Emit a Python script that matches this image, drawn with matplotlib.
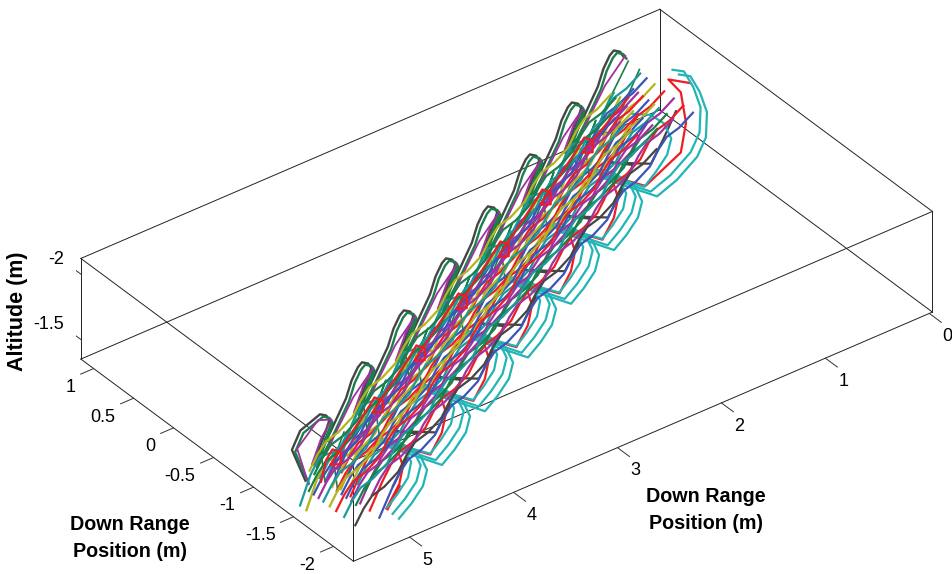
import matplotlib
matplotlib.use('Agg')
import matplotlib.pyplot as plt
import numpy as np

plt.rcParams['font.family'] = ['Liberation Sans', 'DejaVu Sans']

x_lim = (-0.03, 5.54)
y_lim = (1.16, -2.25)
z_lim = (-1.35, -2.12)
x_ticks = [0, 1, 2, 3, 4, 5]
y_ticks = [1, 0.5, 0, -0.5, -1, -1.5, -2]
z_ticks = [-1.5, -2]

CYAN, RED, GREEN, GRAY = '#22b5b5', '#f01c24', '#1a7f4b', '#454545'
PURPLE, BLUE, OLIVE, TEAL = '#a032a0', '#3a55b8', '#b4b41e', '#1a9a9a'

# upper left loops
green_x = [5.01,5.14,5.06, 4.87,4.81,4.78,4.81,4.87,4.93,4.77,4.62, 4.32,4.26,4.22,4.16,4.13,4.16,4.22,4.28,4.12,3.97,
           3.67,3.61,3.57,3.51,3.48,3.51,3.57,3.63,3.47,3.32, 3.02,2.96,2.92,2.86,2.83,2.86,2.92,2.98,2.82,2.67,
           2.37,2.31,2.27,2.21,2.18,2.21,2.27,2.33,2.17,2.02, 1.72,1.66,1.62,1.56,1.53,1.56,1.62,1.68,1.52,1.37,
           1.07,1.01,.97,.91,.88,.91,.97,1.03,.87,.72, .42,.36,.32,.26,.23]
green_z = [-1.20,-1.48,-1.60, -1.66,-1.63,-1.585,-1.52,-1.415,-1.295,-1.49,-1.695, -1.585,-1.665,-1.69,-1.66,-1.615,-1.55,-1.445,-1.325,-1.52,-1.725,
           -1.615,-1.695,-1.72,-1.69,-1.645,-1.58,-1.475,-1.355,-1.55,-1.755, -1.645,-1.725,-1.75,-1.72,-1.675,-1.61,-1.505,-1.385,-1.58,-1.785,
           -1.675,-1.755,-1.78,-1.75,-1.705,-1.64,-1.535,-1.415,-1.61,-1.815, -1.705,-1.785,-1.81,-1.78,-1.735,-1.67,-1.565,-1.445,-1.64,-1.845,
           -1.735,-1.815,-1.84,-1.81,-1.765,-1.70,-1.595,-1.475,-1.67,-1.875, -1.765,-1.845,-1.87,-1.84,-1.795]
green_y = [-1.0,-.68,-.36,-.04,.28,.60,.92,1.24]
grayl_y = [-.96,-.64,-.32,0,.32,.64,.96,1.28]
loop_n = [11,10,10,10,10,10,10,5]

purple_x = [5.01,5.12,4.92, 4.79,4.89,4.98,4.85,4.73,4.58, 4.14,4.24,4.33,4.20,4.08,3.93, 3.49,3.59,3.68,3.55,3.43,3.28,
            2.84,2.94,3.03,2.90,2.78,2.63, 2.19,2.29,2.38,2.25,2.13,1.98, 1.54,1.64,1.73,1.60,1.48,1.33, .89,.99,1.08,.95,.83,.68, .24]
purple_z = [-1.19,-1.50,-1.65, -1.61,-1.50,-1.33,-1.36,-1.52,-1.71, -1.64,-1.53,-1.36,-1.39,-1.55,-1.74, -1.67,-1.56,-1.39,-1.42,-1.58,-1.77,
            -1.70,-1.59,-1.42,-1.45,-1.61,-1.80, -1.73,-1.62,-1.45,-1.48,-1.64,-1.83, -1.76,-1.65,-1.48,-1.51,-1.67,-1.86, -1.79,-1.68,-1.51,-1.54,-1.70,-1.89, -1.82]
purple_y = [-1.0,-.68,-.36,-.04,.28,.60,.92,1.24]
purple_n = [9,6,6,6,6,6,6,1]

thin_x = [4.87,4.97,4.93,4.79,4.64, 4.22,4.32,4.28,4.14,3.99, 3.57,3.67,3.63,3.49,3.34, 2.92,3.02,2.98,2.84,2.69,
          2.27,2.37,2.33,2.19,2.04, 1.62,1.72,1.68,1.54,1.39, .97,1.07,1.03,.89,.74, .32]
thin_z = [-1.66,-1.48,-1.23,-1.37,-1.63, -1.69,-1.51,-1.26,-1.40,-1.66, -1.72,-1.54,-1.29,-1.43,-1.69, -1.75,-1.57,-1.32,-1.46,-1.72,
          -1.78,-1.60,-1.35,-1.49,-1.75, -1.81,-1.63,-1.38,-1.52,-1.78, -1.84,-1.66,-1.41,-1.55,-1.81, -1.87]
thin_y = [-1.10,-.78,-.46,-.14,.18,.50,.82,1.10]
thin2_y = [-1.26,-.94,-.62,-.30,.02,.34,.66,.96]
thin_n = [5,5,5,5,5,5,5,1]

# lower right arcs
cyan_x = [5.01,4.89,4.78,4.74,4.81,4.95,5.14, 4.35,4.23,4.12,4.08,4.15,4.29,4.48, 3.69,3.57,3.46,3.42,3.49,3.63,3.82,
          3.03,2.91,2.80,2.76,2.83,2.97,3.16, 2.37,2.25,2.14,2.10,2.17,2.31,2.50, 1.71,1.59,1.48,1.44,1.51,1.65,1.84,
          1.05,.86,.665,.58,.57,.64,.73,.84]
cyan_z = [-1.44,-1.515,-1.61,-1.72,-1.86,-1.97,-2.04, -1.48,-1.555,-1.65,-1.76,-1.90,-2.01,-2.08, -1.52,-1.595,-1.69,-1.80,-1.94,-2.05,-2.12,
          -1.56,-1.635,-1.73,-1.84,-1.98,-2.09,-2.16, -1.60,-1.675,-1.77,-1.88,-2.02,-2.13,-2.20, -1.64,-1.715,-1.81,-1.92,-2.06,-2.17,-2.24,
          -1.68,-1.74,-1.85,-1.97,-2.16,-2.34,-2.49,-2.54]
cyan_a_y = [-2.13,-1.81,-1.49,-1.17,-.85,-.53,-.21]
cyan_b_y = [-2.05,-1.73,-1.41,-1.09,-.77,-.45,-.13]
cyan_ab_n = [7,7,7,7,7,7,8]
cyan_c_x = [5.00,4.90,4.80,4.77,4.84,4.96,5.12, 4.34,4.24,4.14,4.11,4.18,4.30,4.46, 3.68,3.58,3.48,3.45,3.52,3.64,3.80,
            3.02,2.92,2.82,2.79,2.86,2.98,3.14, 2.36,2.26,2.16,2.13,2.20,2.32,2.48, 1.70,1.60,1.50,1.47,1.54,1.66,1.82,
            1.05,.94,.83,.79,.86,.99,1.17]
cyan_c_z = [-1.45,-1.52,-1.61,-1.72,-1.85,-1.96,-2.02, -1.49,-1.56,-1.65,-1.76,-1.89,-2.00,-2.06, -1.53,-1.60,-1.69,-1.80,-1.93,-2.04,-2.10,
            -1.57,-1.64,-1.73,-1.84,-1.97,-2.08,-2.14, -1.61,-1.68,-1.77,-1.88,-2.01,-2.12,-2.18, -1.65,-1.72,-1.81,-1.92,-2.05,-2.16,-2.22,
            -1.68,-1.755,-1.85,-1.96,-2.10,-2.21,-2.28]
cyan_c_y = [-1.97,-1.65,-1.33,-1.01,-.69,-.37,-.05]
cyan_c_n = [7,7,7,7,7,7,7]

red_a_x = [5.06,4.95,4.91,4.96,5.14, 4.40,4.29,4.25,4.30,4.48, 3.74,3.63,3.59,3.64,3.82, 3.08,2.97,2.93,2.98,3.16,
           2.42,2.31,2.27,2.32,2.50, 1.76,1.65,1.61,1.66,1.84, 1.10,.76,.71,.76,.88,.67]
red_a_z = [-1.50,-1.63,-1.77,-1.91,-2.05, -1.54,-1.67,-1.81,-1.95,-2.09, -1.58,-1.71,-1.85,-1.99,-2.13, -1.62,-1.75,-1.89,-2.03,-2.17,
           -1.66,-1.79,-1.93,-2.07,-2.21, -1.70,-1.83,-1.97,-2.11,-2.25, -1.74,-1.88,-2.09,-2.34,-2.48,-2.38]
red_a_y = [-2.05,-1.73,-1.41,-1.09,-.77,-.45,-.13]
red_a_n = [5,5,5,5,5,5,6]

grayr_x = [4.93,4.81,4.69,4.90, 4.27,4.15,4.03,4.24, 3.61,3.49,3.37,3.58, 2.95,2.83,2.71,2.92, 2.29,2.17,2.05,2.26, 1.63,1.51,1.39,1.60, .97,.85,.73]
grayr_z = [-1.58,-1.73,-1.90,-1.99, -1.62,-1.77,-1.94,-2.03, -1.66,-1.81,-1.98,-2.07, -1.70,-1.85,-2.02,-2.11, -1.74,-1.89,-2.06,-2.15, -1.78,-1.93,-2.10,-2.19, -1.82,-1.97,-2.14]
grayr_y = [-1.95,-1.63,-1.31,-.99,-.67,-.35,-.03]
grayr_n = [4,4,4,4,4,4,3]

# red strand with one small loop per wave
knot_x = [5.16, 5.11,5.05,4.97,4.97,5.07, 4.46,4.40,4.32,4.32,4.42, 3.81,3.75,3.67,3.67,3.77, 3.16,3.10,3.02,3.02,3.12,
          2.51,2.45,2.37,2.37,2.47, 1.86,1.80,1.72,1.72,1.82, 1.21,1.15,1.07,1.07,1.17, .48]
knot_z = [-1.42, -1.57,-1.63,-1.58,-1.49,-1.52, -1.60,-1.66,-1.61,-1.52,-1.55, -1.63,-1.69,-1.64,-1.55,-1.58, -1.66,-1.72,-1.67,-1.58,-1.61,
          -1.69,-1.75,-1.70,-1.61,-1.64, -1.72,-1.78,-1.73,-1.64,-1.67, -1.75,-1.81,-1.76,-1.67,-1.70, -1.74]
knot_y = [-1.35,-1.03,-.71,-.39,-.07,.25,.57,.89]
knot_n = [6,5,5,5,5,5,5,1]

olive_x = [5.30,5.20,5.11,4.90, 4.65,4.55,4.46,4.25, 4.00,3.90,3.81,3.60, 3.35,3.25,3.16,2.95, 2.70,2.60,2.51,2.30, 2.05,1.95,1.86,1.65, 1.40,1.30,1.21,1.00, .75,.65,.56]
olive_z = [-1.25,-1.45,-1.56,-1.54, -1.28,-1.48,-1.59,-1.57, -1.31,-1.51,-1.62,-1.60, -1.34,-1.54,-1.65,-1.63, -1.37,-1.57,-1.68,-1.66, -1.40,-1.60,-1.71,-1.69, -1.43,-1.63,-1.74,-1.72, -1.46,-1.66,-1.77]
olive_y = [-1.35,-1.03,-.71,-.39,-.07,.25,.57,.89]
teal_y = [-1.27,-.95,-.63,-.31,.01,.33,.65,.97]
stair_n = [4,4,4,4,4,4,4,3]

# central bundle: four wave phases, each strand has its own cross range
wave_a_x = [5.17,5.09,5.01,4.89, 4.51,4.43,4.35,4.23, 3.85,3.77,3.69,3.57, 3.19,3.11,3.03,2.91, 2.53,2.45,2.37,2.25, 1.87,1.79,1.71,1.59, 1.21,1.13,1.05,.93, .55]
wave_a_z = [-1.45,-1.55,-1.62,-1.65, -1.49,-1.59,-1.66,-1.69, -1.53,-1.63,-1.70,-1.73, -1.57,-1.67,-1.74,-1.77, -1.61,-1.71,-1.78,-1.81, -1.65,-1.75,-1.82,-1.85, -1.69,-1.79,-1.86,-1.89, -1.73]
wave_b_x = [5.00,4.92,4.84,4.72, 4.34,4.26,4.18,4.06, 3.68,3.60,3.52,3.40, 3.02,2.94,2.86,2.74, 2.36,2.28,2.20,2.08, 1.70,1.62,1.54,1.42, 1.04,.96,.88,.76, .38]
wave_b_z = [-1.46,-1.56,-1.63,-1.66, -1.50,-1.60,-1.67,-1.70, -1.54,-1.64,-1.71,-1.74, -1.58,-1.68,-1.75,-1.78, -1.62,-1.72,-1.79,-1.82, -1.66,-1.76,-1.83,-1.86, -1.70,-1.80,-1.87,-1.90, -1.74]
wave_c_x = [5.33,5.25,5.17,5.05, 4.67,4.59,4.51,4.39, 4.01,3.93,3.85,3.73, 3.35,3.27,3.19,3.07, 2.69,2.61,2.53,2.41, 2.03,1.95,1.87,1.75, 1.37,1.29,1.21,1.09, .71]
wave_c_z = [-1.44,-1.54,-1.61,-1.64, -1.48,-1.58,-1.65,-1.68, -1.52,-1.62,-1.69,-1.72, -1.56,-1.66,-1.73,-1.76, -1.60,-1.70,-1.77,-1.80, -1.64,-1.74,-1.81,-1.84, -1.68,-1.78,-1.85,-1.88, -1.72]
wave_d_x = [4.96, 4.84,4.76,4.68,4.56, 4.18,4.10,4.02,3.90, 3.52,3.44,3.36,3.24, 2.86,2.78,2.70,2.58, 2.20,2.12,2.04,1.92, 1.54,1.46,1.38,1.26, .88,.80,.72,.60, .22]
wave_d_z = [-1.29, -1.47,-1.57,-1.64,-1.67, -1.51,-1.61,-1.68,-1.71, -1.55,-1.65,-1.72,-1.75, -1.59,-1.69,-1.76,-1.79, -1.63,-1.73,-1.80,-1.83, -1.67,-1.77,-1.84,-1.87, -1.71,-1.81,-1.88,-1.91, -1.75]
wave_n = [4,4,4,4,4,4,4,1]
wave_d_n = [5,4,4,4,4,4,4,1]

a1_y = [-1.28,-.96,-.64,-.32,0,.32,.64,.96]
a2_y = [-1.42,-1.10,-.78,-.46,-.14,.18,.50,.82]
a3_y = [-1.56,-1.24,-.92,-.60,-.28,.04,.36,.68]
a4_y = [-1.68,-1.36,-1.04,-.72,-.40,-.08,.24,.56]
a5_y = [-1.80,-1.48,-1.16,-.84,-.52,-.20,.12,.44]
a6_y = [-1.22,-.90,-.58,-.26,.06,.38,.70,1.02]
a7_y = [-1.35,-1.03,-.71,-.39,-.07,.25,.57,.89]
a8_y = [-1.50,-1.18,-.86,-.54,-.22,.10,.42,.74]
a9_y = [-1.62,-1.30,-.98,-.66,-.34,-.02,.30,.62]
a10_y = [-1.74,-1.42,-1.10,-.78,-.46,-.14,.18,.50]
b1_y = [-1.28,-.96,-.64,-.32,0,.32,.64,.96]
b2_y = [-1.40,-1.08,-.76,-.44,-.12,.20,.52,.84]
b3_y = [-1.54,-1.22,-.90,-.58,-.26,.06,.38,.70]
b4_y = [-1.78,-1.46,-1.14,-.82,-.50,-.18,.14,.46]
b5_y = [-1.34,-1.02,-.70,-.38,-.06,.26,.58,.90]
b6_y = [-1.47,-1.15,-.83,-.51,-.19,.13,.45,.77]
b7_y = [-1.60,-1.28,-.96,-.64,-.32,0,.32,.64]
b8_y = [-1.70,-1.38,-1.06,-.74,-.42,-.10,.22,.54]
c1_y = [-1.48,-1.16,-.84,-.52,-.20,.12,.44,.76]
c2_y = [-1.60,-1.28,-.96,-.64,-.32,0,.32,.64]
c3_y = [-1.76,-1.44,-1.12,-.80,-.48,-.16,.16,.48]
c4_y = [-2.00,-1.68,-1.36,-1.04,-.72,-.40,-.08,.24]
c5_y = [-1.42,-1.10,-.78,-.46,-.14,.18,.50,.82]
c6_y = [-1.54,-1.22,-.90,-.58,-.26,.06,.38,.70]
c7_y = [-1.68,-1.36,-1.04,-.72,-.40,-.08,.24,.56]
c8_y = [-1.86,-1.54,-1.22,-.90,-.58,-.26,.06,.38]
d1_y = [-1.16,-.84,-.52,-.20,.12,.44,.76,1.08]
d2_y = [-1.34,-1.02,-.70,-.38,-.06,.26,.58,.90]
d3_y = [-1.58,-1.26,-.94,-.62,-.30,.02,.34,.66]
d4_y = [-1.82,-1.50,-1.18,-.86,-.54,-.22,.10,.42]
d5_y = [-1.24,-.92,-.60,-.28,.04,.36,.68,1.00]
d6_y = [-1.46,-1.14,-.82,-.50,-.18,.14,.46,.78]
d7_y = [-1.70,-1.38,-1.06,-.74,-.42,-.10,.22,.54]


def trace(ax, x, z, y, n, color, lw=1.6):
    ax.plot(x, np.repeat(y, n), z, color=color, lw=lw)


fig = plt.figure(figsize=(9.52, 5.74), dpi=100)
# square axes in pixels, placed so the box lands where it does in the picture
ax = fig.add_axes([75.8/952, -142.1/574, 839/952, 839/574], projection='3d', proj_type='ortho')
ax.computed_zorder = False
ax.set_box_aspect((728, 450, 122))
ax.view_init(elev=34.4, azim=52.7)
ax.set_xlim(*x_lim)
ax.set_ylim(*y_lim)
ax.set_zlim(*z_lim)
ax.set_xticks([])
ax.set_yticks([])
ax.set_zticks([])
ax.set_axis_off()

# box
for a in x_lim:
    for b in y_lim:
        ax.plot([a, a], [b, b], z_lim, color='#222222', lw=0.7, clip_on=False)
    for c in z_lim:
        ax.plot([a, a], y_lim, [c, c], color='#222222', lw=0.7, clip_on=False)
for b in y_lim:
    for c in z_lim:
        ax.plot(x_lim, [b, b], [c, c], color='#222222', lw=0.7, clip_on=False)

# ticks
for t in x_ticks:
    ax.plot([t, t], [-2.25, -2.40], [-1.35, -1.35], color='#333333', lw=0.7, clip_on=False)
    ax.text(t, -2.475, -1.275, str(t), ha='center', va='center', fontsize=13)
for t in y_ticks:
    ax.plot([5.54, 5.665], [t, t], [-1.35, -1.35], color='#333333', lw=0.7)
    ax.text(5.713, t, -1.265, str(t), ha='right', va='center', fontsize=13)
for t in z_ticks:
    ax.plot([5.54, 5.54], [1.16, 1.32], [t, t], color='#333333', lw=0.7)
    ax.text(5.54, 1.37, t - 0.02, str(t), ha='right', va='center', fontsize=13)

# trajectories, back to front
trace(ax, green_x, green_z, grayl_y, loop_n, GRAY, 1.7)
trace(ax, green_x, green_z, green_y, loop_n, GREEN, 1.7)
trace(ax, purple_x, purple_z, purple_y, purple_n, PURPLE, 1.3)
trace(ax, thin_x, thin_z, thin_y, thin_n, GREEN, 1.2)
trace(ax, thin_x, thin_z, thin2_y, thin_n, GREEN, 1.2)
trace(ax, grayr_x, grayr_z, grayr_y, grayr_n, GRAY)
trace(ax, red_a_x, red_a_z, red_a_y, red_a_n, RED)
ax.plot(red_a_x[:2], [red_a_y[0]] * 2, red_a_z[:2], color=RED, lw=2.6)
trace(ax, cyan_c_x, cyan_c_z, cyan_c_y, cyan_c_n, CYAN)
trace(ax, cyan_x, cyan_z, cyan_b_y, cyan_ab_n, CYAN)
trace(ax, cyan_x, cyan_z, cyan_a_y, cyan_ab_n, CYAN)
trace(ax, olive_x, olive_z, olive_y, stair_n, OLIVE, 1.7)
trace(ax, olive_x, olive_z, teal_y, stair_n, TEAL)
trace(ax, wave_d_x, wave_d_z, d1_y, wave_d_n, TEAL)
trace(ax, wave_a_x, wave_a_z, a6_y, wave_n, OLIVE)
trace(ax, wave_a_x, wave_a_z, a1_y, wave_n, GREEN)
trace(ax, wave_d_x, wave_d_z, d5_y, wave_d_n, BLUE)
trace(ax, wave_b_x, wave_b_z, b1_y, wave_n, BLUE)
trace(ax, wave_b_x, wave_b_z, b5_y, wave_n, PURPLE)
trace(ax, wave_d_x, wave_d_z, d2_y, wave_d_n, OLIVE)
trace(ax, wave_a_x, wave_a_z, a7_y, wave_n, TEAL)
trace(ax, wave_b_x, wave_b_z, b2_y, wave_n, RED)
trace(ax, wave_c_x, wave_c_z, c5_y, wave_n, GREEN)
trace(ax, wave_a_x, wave_a_z, a2_y, wave_n, PURPLE)
trace(ax, wave_d_x, wave_d_z, d6_y, wave_d_n, RED)
trace(ax, wave_b_x, wave_b_z, b6_y, wave_n, BLUE)
trace(ax, wave_c_x, wave_c_z, c1_y, wave_n, BLUE)
trace(ax, wave_a_x, wave_a_z, a8_y, wave_n, OLIVE)
trace(ax, wave_b_x, wave_b_z, b3_y, wave_n, OLIVE)
trace(ax, wave_c_x, wave_c_z, c6_y, wave_n, PURPLE)
trace(ax, wave_a_x, wave_a_z, a3_y, wave_n, RED)
trace(ax, wave_d_x, wave_d_z, d3_y, wave_d_n, PURPLE)
trace(ax, wave_b_x, wave_b_z, b7_y, wave_n, TEAL)
trace(ax, wave_a_x, wave_a_z, a9_y, wave_n, BLUE)
trace(ax, wave_c_x, wave_c_z, c2_y, wave_n, TEAL)
trace(ax, wave_d_x, wave_d_z, d7_y, wave_d_n, RED)
trace(ax, wave_a_x, wave_a_z, a4_y, wave_n, BLUE)
trace(ax, wave_b_x, wave_b_z, b8_y, wave_n, GREEN)
trace(ax, wave_c_x, wave_c_z, c7_y, wave_n, OLIVE)
trace(ax, wave_c_x, wave_c_z, c3_y, wave_n, RED)
trace(ax, wave_a_x, wave_a_z, a10_y, wave_n, PURPLE)
trace(ax, wave_b_x, wave_b_z, b4_y, wave_n, PURPLE)
trace(ax, wave_a_x, wave_a_z, a5_y, wave_n, GREEN)
trace(ax, wave_d_x, wave_d_z, d4_y, wave_d_n, BLUE)
trace(ax, wave_c_x, wave_c_z, c8_y, wave_n, TEAL)
trace(ax, wave_c_x, wave_c_z, c4_y, wave_n, GRAY)
trace(ax, knot_x, knot_z, knot_y, knot_n, RED)

# axis titles
fig.text(18/952, 1 - 311/574, 'Altitude (m)', rotation=90, ha='center', va='center', fontsize=15.5, fontweight='bold')
fig.text(130/952, 1 - 538/574, 'Down Range\nPosition (m)', ha='center', va='center', fontsize=14.2, fontweight='bold', linespacing=1.55)
fig.text(706/952, 1 - 510/574, 'Down Range\nPosition (m)', ha='center', va='center', fontsize=14.2, fontweight='bold', linespacing=1.55)

fig.savefig('out.png', dpi=100)
